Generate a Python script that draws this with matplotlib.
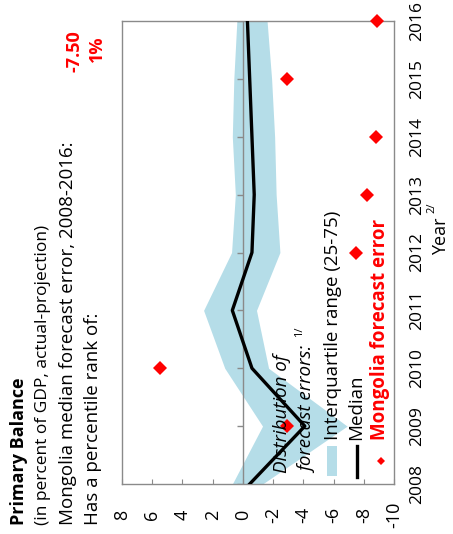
import numpy as np
import matplotlib.pyplot as plt

# chart is drawn turned a quarter turn: values run along x (inverted), years along y
years = [2008, 2009, 2010, 2011, 2012, 2013, 2014, 2015, 2016]
iqr_high = [0.7, -1.3, 1.2, 2.6, 0.75, 0.5, 0.7, 0.6, 0.4]
iqr_low = [-1.3, -6.9, -1.7, -0.9, -2.45, -2.2, -2.1, -1.9, -1.6]
median = [-0.45, -4.1, -0.6, 0.7, -0.6, -0.75, -0.6, -0.45, -0.3]
mongolia = [np.nan, -2.9, 5.5, np.nan, -7.5, -8.2, -8.8, -2.9, -8.9]
value_ticks = [8, 6, 4, 2, 0, -2, -4, -6, -8, -10]
median_error = "-7.50"
percentile_rank = "1%"

plt.rcParams['font.family'] = ['Open Sans', 'DejaVu Sans']

W, H = 453, 534
fig = plt.figure(figsize=(W / 100, H / 100), dpi=100)


def fx(x):
    return x / W


def fy(y):
    return 1 - y / H


ax = fig.add_axes([fx(122), fy(484), fx(394) - fx(122), fy(21) - fy(484)])
grey = '#8a8a8a'
band = '#b5dde8'

ax.fill_betweenx(years, iqr_low, iqr_high, color=band, lw=0, zorder=1)
ax.axvline(0, color=grey, lw=1, zorder=2)
ax.plot(np.zeros(len(years)), years, ls='none', marker=0, ms=4.5, mec=grey,
        mew=1, zorder=2)
ax.plot(median, years, color='black', lw=2.4, zorder=3)
ax.plot(mongolia, years, ls='none', marker='D', ms=7, color='red', mew=0,
        clip_on=False, zorder=4)

ax.set_xlim(8, -10)
ax.set_ylim(2008, 2016)
for s in ax.spines.values():
    s.set_color(grey)
    s.set_linewidth(1)

ax.set_xticks(value_ticks)
ax.set_xticklabels([str(v) for v in value_ticks], rotation=90, va='center')
ax.tick_params(axis='x', direction='in', length=3.5, color=grey, pad=22,
               labelsize=13)
ax.yaxis.tick_right()
ax.set_yticks(years)
ax.set_yticklabels([str(y) for y in years], rotation=90, va='center')
ax.tick_params(axis='y', length=0, pad=11, labelsize=12.5)

# header texts
kw = dict(rotation=90, rotation_mode='anchor', va='center')
fig.text(fx(19), fy(525), "Primary Balance", ha='left', fontsize=13,
         fontweight='bold', **kw)
fig.text(fx(43), fy(525), "(in percent of GDP, actual-projection)", ha='left',
         fontsize=12.5, **kw)
fig.text(fx(68), fy(525), "Mongolia median forecast error, 2008-2016:",
         ha='left', fontsize=13.5, **kw)
fig.text(fx(93), fy(525), "Has a percentile rank of:", ha='left',
         fontsize=13.5, **kw)
fig.text(fx(75), fy(30), median_error, ha='right', fontsize=13,
         fontweight='bold', color='red', **kw)
fig.text(fx(97), fy(35), percentile_rank, ha='right', fontsize=13,
         fontweight='bold', color='red', **kw)

# legend
fig.text(fx(282), fy(473), "Distribution of", ha='left', fontsize=13.5,
         style='italic', **kw)
fig.text(fx(308), fy(473), "forecast errors:", ha='left', fontsize=13.5,
         style='italic', **kw)
fig.text(fx(300), fy(337), "1/", ha='left', fontsize=8, **kw)
ax.add_patch(plt.Rectangle((fx(327), fy(476)), fx(10), 30 / H,
                           transform=fig.transFigure, color=band, lw=0))
fig.text(fx(333), fy(440), "Interquartile range (25-75)", ha='left',
         fontsize=13.5, **kw)
fig.add_artist(plt.Line2D([fx(357), fx(357)], [fy(477), fy(446)],
                          color='black', lw=2.4))
fig.text(fx(356), fy(440), "Median", ha='left', fontsize=13.5, **kw)
fig.add_artist(plt.Line2D([fx(381)], [fy(461)], marker='D', ms=4.5,
                          color='red', mew=0))
fig.text(fx(380), fy(440), "Mongolia forecast error", ha='left',
         fontsize=13.5, fontweight='bold', color='red', **kw)

fig.text(fx(441), fy(255), "Year", ha='left', fontsize=13, **kw)
fig.text(fx(432), fy(213), "2/", ha='left', fontsize=8, **kw)

fig.savefig('out.png', dpi=100)
